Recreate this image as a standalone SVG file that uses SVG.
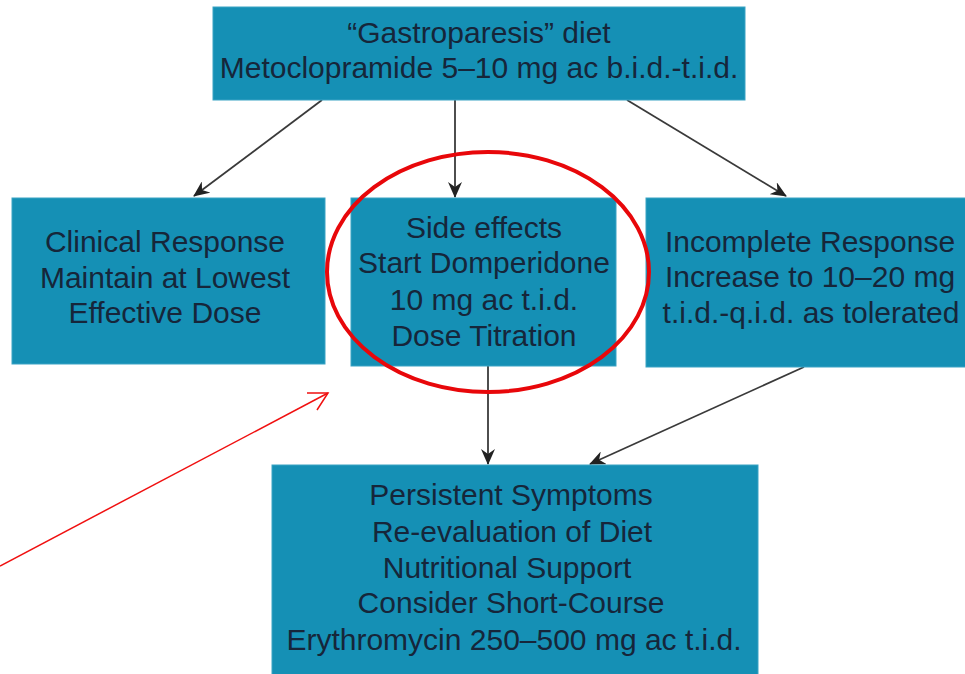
<svg xmlns="http://www.w3.org/2000/svg" width="965" height="674" viewBox="0 0 965 674">
<defs>
<style>
.box{fill:#1590b5;stroke:#3ba3c4;stroke-width:1}
.t{font-family:"Liberation Sans",Arial,sans-serif;font-size:30px;fill:#16263a;text-anchor:middle}
.c{stroke:#3a3a3a;stroke-width:1.8;fill:none}
</style>
<marker id="ah" viewBox="0 0 16 14" refX="15" refY="7" markerWidth="16" markerHeight="14" markerUnits="userSpaceOnUse" orient="auto">
<path d="M0,0 L16,7 L0,14 L5,7 Z" fill="#222"/>
</marker>
</defs>
<rect width="965" height="674" fill="#fff"/>
<g id="connectors">
<line class="c" x1="322" y1="100" x2="194" y2="196" marker-end="url(#ah)"/>
<line class="c" x1="455" y1="100" x2="455" y2="197" marker-end="url(#ah)"/>
<line class="c" x1="627" y1="100" x2="786" y2="196" marker-end="url(#ah)"/>
<line class="c" x1="488" y1="366" x2="488" y2="464" marker-end="url(#ah)"/>
<line class="c" x1="804" y1="367" x2="590" y2="464" marker-end="url(#ah)"/>
</g>
<g id="top">
<rect class="box" x="213" y="7" width="532" height="93"/>
<text class="t" x="479" y="43">“Gastroparesis” diet</text>
<text class="t" x="479" y="78">Metoclopramide 5–10 mg ac b.i.d.-t.i.d.</text>
</g>
<g id="clinical">
<rect class="box" x="12" y="198" width="313" height="166"/>
<text class="t" x="165" y="252">Clinical Response</text>
<text class="t" x="165" y="288">Maintain at Lowest</text>
<text class="t" x="165" y="323">Effective Dose</text>
</g>
<g id="side">
<rect class="box" x="351" y="198" width="265" height="168"/>
<text class="t" x="484" y="238">Side effects</text>
<text class="t" x="484" y="273">Start Domperidone</text>
<text class="t" x="484" y="310">10 mg ac t.i.d.</text>
<text class="t" x="484" y="346">Dose Titration</text>
</g>
<g id="incomplete">
<rect class="box" x="646" y="198" width="325" height="169"/>
<text class="t" x="810" y="252">Incomplete Response</text>
<text class="t" x="810" y="287">Increase to 10–20 mg</text>
<text class="t" x="811" y="323">t.i.d.-q.i.d. as tolerated</text>
</g>
<g id="persistent">
<rect class="box" x="272" y="465" width="486" height="215"/>
<text class="t" x="511" y="505">Persistent Symptoms</text>
<text class="t" x="512" y="542">Re-evaluation of Diet</text>
<text class="t" x="507" y="578">Nutritional Support</text>
<text class="t" x="511" y="613">Consider Short-Course</text>
<text class="t" x="514" y="650">Erythromycin 250–500 mg ac t.i.d.</text>
</g>
<g id="annotation">
<ellipse cx="488" cy="272" rx="161" ry="120" fill="none" stroke="#e8070a" stroke-width="4"/>
<line x1="0" y1="566" x2="328" y2="393" stroke="#f01010" stroke-width="1.5"/>
<polyline points="307,393 328,393 317,410" fill="none" stroke="#f01010" stroke-width="1.5"/>
</g>
</svg>
